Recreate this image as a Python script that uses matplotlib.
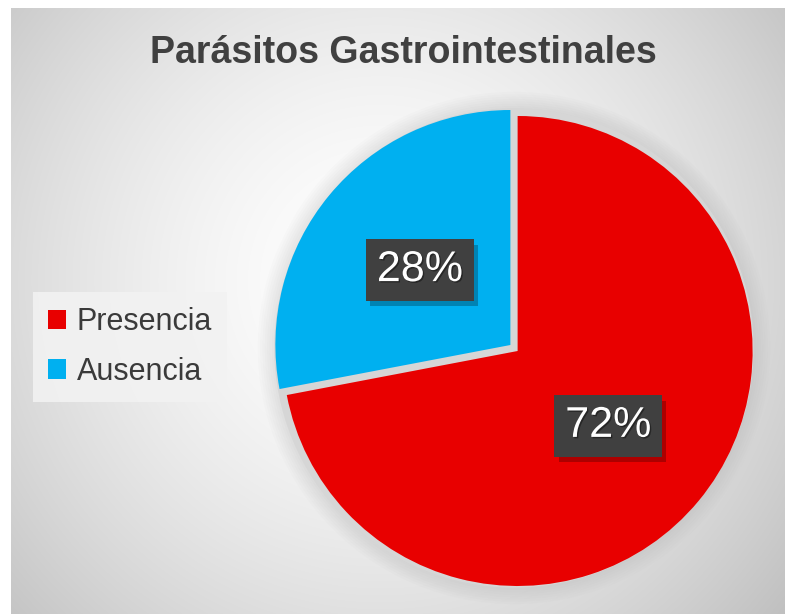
import numpy as np
import matplotlib
matplotlib.use("Agg")
import matplotlib.pyplot as plt
from matplotlib.patches import Patch, Circle
import matplotlib.patheffects as pe

# data
categorias = ["Presencia", "Ausencia"]
valores = [72, 28]
colores = ["#e80000", "#00b0f0"]
titulo = "Parásitos Gastrointestinales"

W, H = 785, 614
fig = plt.figure(figsize=(W / 100, H / 100), dpi=100, facecolor="white")

# fondo con degradado radial
bg = fig.add_axes([11 / W, 0, 1 - 11 / W, (H - 8) / H])
yy, xx = np.mgrid[8:H, 11:W]
d = np.hypot(xx - 380, yy - 280) / 500.0
g = np.clip(1.0 - 0.23 * d ** 1.6, 0, 1)
bg.imshow(np.dstack([g, g, g]), aspect="auto", extent=[0, 1, 0, 1], interpolation="bilinear")
bg.set_axis_off()

# pie
cx, cy, r = 514, 348, 235
lim = 1.12
half = lim * r
ax = fig.add_axes([(cx - half) / W, (H - cy - half) / H, 2 * half / W, 2 * half / H])

# sombra suave
for k in range(8):
    ax.add_patch(Circle((0, 0), 1.02 + k * 0.01, color="#9a9a9a", alpha=0.03, lw=0, zorder=0))
ax.add_patch(Circle((0, 0), 1.02, color="#d6d6d6", lw=0, zorder=0.5))

wedges, texts, autotexts = ax.pie(
    valores, colors=colores, startangle=90, counterclock=False,
    explode=[0.02, 0.02], autopct="%1.0f%%", pctdistance=0.5,
    wedgeprops=dict(linewidth=0), radius=1.0,
    textprops=dict(color="white", fontsize=31, family=["Liberation Sans", "DejaVu Sans"]),
)
ax.set_xlim(-lim, lim)
ax.set_ylim(-lim, lim)
ax.set_aspect("equal")
ax.set_axis_off()

for t in autotexts:
    t.set_bbox(dict(boxstyle="square,pad=0.25", fc="#404040", ec="none", lw=0))
    t.set_path_effects([pe.withSimplePatchShadow(offset=(1, -1), shadow_rgbFace="black", alpha=0.4)])
    t.get_bbox_patch().set_path_effects([pe.SimplePatchShadow(offset=(3, -4), shadow_rgbFace="#000000", alpha=0.25), pe.Normal()])

# titulo
fig.text(403 / W, 1 - 53 / H, titulo, ha="center", va="center", fontsize=27, fontweight="bold",
         color="#404040", family=["Liberation Sans", "DejaVu Sans"])

# leyenda
handles = [Patch(facecolor=c, edgecolor="none") for c in colores]
leg = fig.legend(handles, categorias, loc="center", bbox_to_anchor=(130 / W, 1 - 347 / H),
                 bbox_transform=fig.transFigure, frameon=True, fancybox=False,
                 prop=dict(family="Liberation Sans", size=22), labelcolor="#3a3a3a",
                 handlelength=0.6, handleheight=0.6, handletextpad=0.35, labelspacing=0.65,
                 borderpad=0.5)
leg.get_frame().set_facecolor("#f2f2f2")
leg.get_frame().set_edgecolor("none")
leg.get_frame().set_alpha(0.9)

fig.savefig("out.png", dpi=100, facecolor="white")
